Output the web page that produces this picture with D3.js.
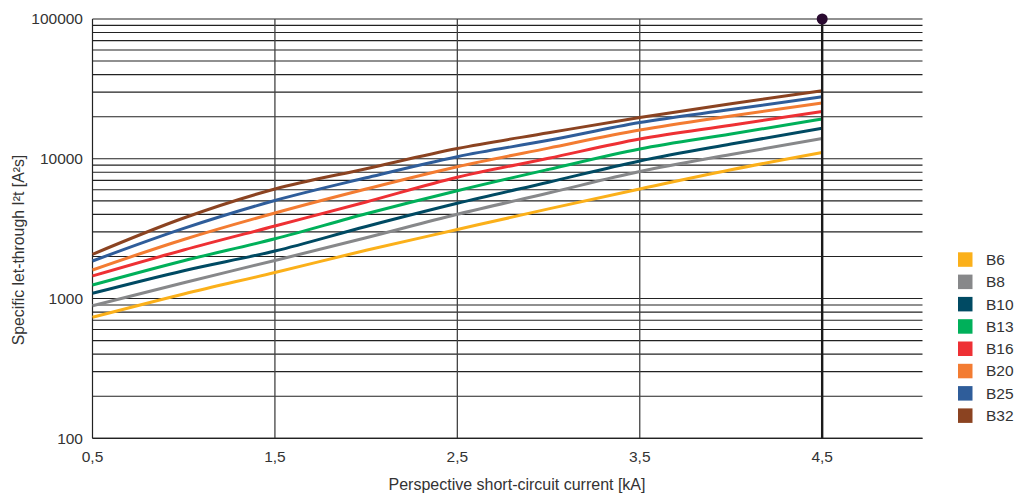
<!DOCTYPE html>
<html>
<head>
<meta charset="utf-8">
<script src="https://cdn.jsdelivr.net/npm/d3@7"></script>
<style>
  body { margin: 0; background: #fff; }
  svg text { font-family: "Liberation Sans", Arial, sans-serif; fill: #333; }
</style>
</head>
<body>
<svg id="chart" width="1016" height="495"></svg>
<script>
// ---- data ----
const currents = [0.5, 1.0, 1.5, 2.0, 2.5, 3.0, 3.5, 4.0, 4.5];
const seriesNames = ["B6", "B8", "B10", "B13", "B16", "B20", "B25", "B32"];
const B6  = [734, 1078, 1536, 2214, 3118, 4378, 6077, 8339, 11090];
const B8  = [889, 1298, 1872, 2720, 4006, 5689, 8107, 10730, 13960];
const B10 = [1090, 1582, 2188, 3277, 4801, 6800, 9638, 12735, 16520];
const B13 = [1250, 1865, 2676, 4040, 5909, 8392, 11750, 15040, 19250];
const B16 = [1450, 2225, 3304, 4906, 7368, 10080, 13850, 17390, 21790];
const B20 = [1601, 2645, 4093, 6077, 8776, 11920, 16060, 20260, 25060];
const B25 = [1856, 3176, 5028, 7307, 10346, 13557, 18177, 22480, 27800];
const B32 = [2073, 3770, 6077, 8492, 11844, 15340, 19740, 24770, 30690];
const seriesValues = [B6, B8, B10, B13, B16, B20, B25, B32];
const seriesColors = ["#fbb01a", "#87888a", "#004a63", "#00b05a", "#ee3034", "#f37c32", "#2f5d9a", "#8b4321"];
const xTicks = [0.5, 1.5, 2.5, 3.5, 4.5];
const yTicks = [100, 1000, 10000, 100000];
const xTitle = "Perspective short-circuit current [kA]";
const yTitle = "Specific let-through I²t [A²s]";
const markerCurrent = 4.5;

// ---- layout ----
const svg = d3.select("#chart");
const pLeft = 92.5, pRight = 922.5, pTop = 19, pBottom = 438.3;
const x = d3.scaleLinear().domain([0.5, 5.05]).range([pLeft, pRight]);
const y = d3.scaleLog().domain([100, 100000]).range([pBottom, pTop]);

// horizontal grid (1..9 per decade)
const gridVals = [];
for (let d = 100; d < 100000; d *= 10) for (let k = 1; k <= 9; k++) gridVals.push(d * k);
gridVals.push(100000);
svg.append("g").selectAll("line").data(gridVals).join("line")
  .attr("x1", pLeft).attr("x2", pRight)
  .attr("y1", d => y(d)).attr("y2", d => y(d))
  .attr("stroke", "#222").attr("stroke-width", 1.1);

// vertical grid
svg.append("g").selectAll("line").data([1.5, 2.5, 3.5]).join("line")
  .attr("x1", d => x(d)).attr("x2", d => x(d))
  .attr("y1", pTop).attr("y2", pBottom)
  .attr("stroke", "#444").attr("stroke-width", 1.3);

// left axis line
svg.append("line").attr("x1", pLeft).attr("x2", pLeft).attr("y1", pTop).attr("y2", pBottom)
  .attr("stroke", "#222").attr("stroke-width", 1.2);
// bottom axis line
svg.append("line").attr("x1", pLeft).attr("x2", pRight).attr("y1", pBottom).attr("y2", pBottom)
  .attr("stroke", "#222").attr("stroke-width", 1.3);

// y tick labels
svg.append("g").selectAll("text").data(yTicks).join("text")
  .attr("x", 83).attr("y", d => y(d)).attr("dy", "0.35em")
  .attr("text-anchor", "end").attr("font-size", 15.5)
  .text(d => d3.format("d")(d));

// x tick labels
svg.append("g").selectAll("text").data(xTicks).join("text")
  .attr("x", d => x(d)).attr("y", 457).attr("dy", "0.35em")
  .attr("text-anchor", "middle").attr("font-size", 15.5)
  .text(d => d3.format(".1f")(d).replace(".", ","));

// axis titles
svg.append("text").attr("x", 517).attr("y", 484).attr("dy", "0.35em")
  .attr("text-anchor", "middle").attr("font-size", 16).text(xTitle);
svg.append("text").attr("transform", "translate(18,250) rotate(-90)").attr("dy", "0.35em")
  .attr("text-anchor", "middle").attr("font-size", 15.8).text(yTitle);

// curves
const line = d3.line().x(d => x(d[0])).y(d => y(d[1])).curve(d3.curveMonotoneX);
svg.append("g").selectAll("path").data(seriesValues).join("path")
  .attr("d", vals => line(currents.map((c, i) => [c, vals[i]])))
  .attr("fill", "none")
  .attr("stroke", (d, i) => seriesColors[i])
  .attr("stroke-width", 3);

// marker line at 4.5 kA
svg.append("line").attr("x1", x(markerCurrent)).attr("x2", x(markerCurrent))
  .attr("y1", y(100000)).attr("y2", pBottom)
  .attr("stroke", "#1a1a1a").attr("stroke-width", 2.4);
svg.append("circle").attr("cx", x(markerCurrent)).attr("cy", y(100000)).attr("r", 5.5)
  .attr("fill", "#2a0a30");

// legend
const lg = svg.append("g").selectAll("g").data(seriesNames).join("g")
  .attr("transform", (d, i) => `translate(958, ${259.5 + i * 22.3})`);
lg.append("rect").attr("x", 0).attr("y", -7.2).attr("width", 14.5).attr("height", 14.5)
  .attr("fill", (d, i) => seriesColors[i]);
lg.append("text").attr("x", 28).attr("y", 0).attr("dy", "0.35em")
  .attr("font-size", 15.5).text(d => d);
</script>
</body>
</html>
